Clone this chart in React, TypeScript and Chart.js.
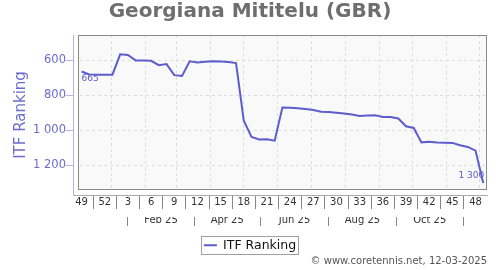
import React, { useEffect, useRef } from "react";
import { Chart, registerables } from "chart.js";

Chart.register(...registerables);
Chart.defaults.font.family = "'DejaVu Sans', sans-serif";

const CHART_TITLE = "Georgiana Mititelu (GBR)";
const SERIES_NAME = "ITF Ranking";
const FOOTER_TEXT = "© www.coretennis.net, 12-03-2025";

// Weekly ranking snapshots (Thursdays)
const rankingDates = [
  "2024-12-05", "2024-12-12", "2024-12-19", "2024-12-26",
  "2025-01-02", "2025-01-09", "2025-01-16", "2025-01-23", "2025-01-30",
  "2025-02-06", "2025-02-13", "2025-02-20", "2025-02-27",
  "2025-03-06", "2025-03-13", "2025-03-20", "2025-03-27",
  "2025-04-03", "2025-04-10", "2025-04-17", "2025-04-24",
  "2025-05-01", "2025-05-08", "2025-05-15", "2025-05-22", "2025-05-29",
  "2025-06-05", "2025-06-12", "2025-06-19", "2025-06-26",
  "2025-07-03", "2025-07-10", "2025-07-17", "2025-07-24", "2025-07-31",
  "2025-08-07", "2025-08-14", "2025-08-21", "2025-08-28",
  "2025-09-04", "2025-09-11", "2025-09-18", "2025-09-25",
  "2025-10-02", "2025-10-09", "2025-10-16", "2025-10-23", "2025-10-30",
  "2025-11-06", "2025-11-13", "2025-11-20", "2025-11-27",
  "2025-12-04",
];

const rankingValues = [
  665, 682, 683, 683,
  683, 567, 571, 602, 602,
  604, 629, 623, 686,
  691, 607, 614, 610,
  607, 608, 611, 617,
  945, 1038, 1053, 1051, 1059,
  870, 872, 874, 879,
  884, 895, 896, 900, 905,
  910, 918, 916, 914,
  924, 924, 933, 977,
  987, 1069, 1065, 1070, 1071,
  1072, 1085, 1095, 1116,
  1300,
];

// Week-number tick labels (every third week)
const weekTickDates = [
  "2024-12-05", "2024-12-26", "2025-01-16", "2025-02-06", "2025-02-27",
  "2025-03-20", "2025-04-10", "2025-05-01", "2025-05-22", "2025-06-12",
  "2025-07-03", "2025-07-24", "2025-08-14", "2025-09-04", "2025-09-25",
  "2025-10-16", "2025-11-06", "2025-11-27",
];
const weekTickLabels = [
  "49", "52", "3", "6", "9", "12", "15", "18", "21",
  "24", "27", "30", "33", "36", "39", "42", "45", "48",
];

// Month labels (second row)
const monthLabelKeys = ["2025-02", "2025-04", "2025-06", "2025-08", "2025-10"];
const monthLabels = ["Feb 25", "Apr 25", "Jun 25", "Aug 25", "Oct 25"];

// Month boundaries for vertical grid lines
const gridMonthKeys = [
  "2025-01", "2025-02", "2025-03", "2025-04", "2025-05", "2025-06",
  "2025-07", "2025-08", "2025-09", "2025-10", "2025-11", "2025-12",
];

const yTickValues = [600, 800, 1000, 1200];

// axis ranges
const X_MIN = -3.76;
const X_MAX = 371.4;
const Y_MIN = 457;
const Y_MAX = 1369;

const ORIGIN = Date.UTC(2024, 11, 1);
const DAY = 86400000;
const dayOf = (s: string) => {
  const [y, m, d] = s.split("-").map(Number);
  return (Date.UTC(y, m - 1, d) - ORIGIN) / DAY;
};
const monthStart = (ym: string) => {
  const [y, m] = ym.split("-").map(Number);
  return (Date.UTC(y, m - 1, 1) - ORIGIN) / DAY;
};
const monthMid = (ym: string) => {
  const [y, m] = ym.split("-").map(Number);
  return ((Date.UTC(y, m - 1, 1) + Date.UTC(y, m, 1)) / 2 - ORIGIN) / DAY;
};
const fmt = (n: number) => String(n).replace(/\B(?=(\d{3})+(?!\d))/g, " ");

const LINE_COLOR = "#5d5dcc";
const AXIS_PURPLE = "#6b6bcc";
const AXIS_PURPLE_LIGHT = "#b3b3e6";
const GRID_COLOR = "#dddddd";

const framePlugin = {
  id: "frame",
  beforeDraw(chart: any) {
    const { ctx, chartArea: a } = chart;
    ctx.save();
    ctx.fillStyle = "#f9f9f9";
    ctx.fillRect(a.left + 5, a.top, a.right - a.left - 5, a.bottom - a.top - 5);
    ctx.restore();
  },
  beforeDatasetsDraw(chart: any) {
    const { ctx, chartArea: a } = chart;
    ctx.save();
    ctx.fillStyle = "#ffffff";
    ctx.fillRect(a.left + 1, a.top, 4, a.bottom - a.top);
    ctx.fillRect(a.left + 1, a.bottom - 5, a.right - a.left, 5);
    ctx.strokeStyle = "#888888";
    ctx.lineWidth = 1;
    ctx.strokeRect(a.left + 5.5, a.top + 0.5, a.right - a.left - 6, a.bottom - a.top - 6);
    ctx.restore();
  },
};

const pointLabelPlugin = {
  id: "pointLabels",
  afterDatasetsDraw(chart: any) {
    const pts = chart.getDatasetMeta(0).data;
    if (!pts.length) return;
    const { ctx } = chart;
    const first = pts[0];
    const last = pts[pts.length - 1];
    ctx.save();
    ctx.font = "9px 'DejaVu Sans', sans-serif";
    ctx.fillStyle = LINE_COLOR;
    ctx.textAlign = "left";
    ctx.textBaseline = "top";
    ctx.fillText(fmt(rankingValues[0]), first.x, first.y + 3);
    ctx.textAlign = "right";
    ctx.textBaseline = "alphabetic";
    ctx.fillText(fmt(rankingValues[rankingValues.length - 1]), last.x + 1, last.y - 4.5);
    ctx.restore();
  },
};

const legendBoxPlugin = {
  id: "legendBox",
  afterDraw(chart: any) {
    const hb = chart.legend && chart.legend.legendHitBoxes && chart.legend.legendHitBoxes[0];
    if (!hb) return;
    const { ctx } = chart;
    ctx.save();
    ctx.strokeStyle = "#a0a0a0";
    ctx.lineWidth = 1;
    ctx.strokeRect(Math.round(hb.left - 3) + 0.5, Math.round(hb.top - 3) + 0.5, Math.round(hb.width + 5), Math.round(hb.height + 5));
    ctx.restore();
  },
};

export default function App() {
  const ref = useRef<HTMLCanvasElement>(null);

  useEffect(() => {
    document.body.style.margin = "0";
    const chart = new Chart(ref.current as HTMLCanvasElement, {
      type: "line",
      data: {
        datasets: [
          {
            label: SERIES_NAME,
            data: rankingDates.map((d, i) => ({ x: dayOf(d), y: rankingValues[i] })),
            borderColor: LINE_COLOR,
            backgroundColor: LINE_COLOR,
            borderWidth: 2,
            pointRadius: 0,
            tension: 0,
            fill: false,
          },
        ],
      },
      options: {
        animation: false,
        responsive: false,
        layout: { padding: { top: 0, left: 13, right: 13, bottom: 2.5 } },
        plugins: {
          title: {
            display: true,
            text: CHART_TITLE,
            color: "#6e6e6e",
            font: { size: 20, weight: "bold" },
            padding: { top: 0, bottom: 11 },
          },
          subtitle: {
            display: true,
            text: FOOTER_TEXT,
            position: "bottom",
            align: "end",
            color: "#555555",
            font: { size: 10 },
            padding: { top: -6.05, bottom: 0 },
          },
          legend: {
            display: true,
            position: "bottom",
            labels: {
              color: "#111111",
              font: { size: 12.5 },
              padding: 14.05,
              usePointStyle: true,
              pointStyle: "line",
              pointStyleWidth: 13,
            },
          },
          tooltip: { enabled: false },
        },
        scales: {
          x: {
            type: "linear",
            position: "bottom",
            weight: 1,
            min: X_MIN,
            max: X_MAX,
            afterBuildTicks: (s: any) => {
              s.ticks = weekTickDates.map((d) => ({ value: dayOf(d) }));
            },
            afterFit: (s: any) => {
              s.height = 22;
            },
            ticks: {
              autoSkip: false,
              maxRotation: 0,
              minRotation: 0,
              padding: -12.2,
              color: "#333333",
              font: { size: 10 },
              callback: (_v: any, i: number) => weekTickLabels[i],
            },
            grid: {
              display: true,
              drawOnChartArea: false,
              drawTicks: true,
              tickLength: 14,
              offset: true,
              tickColor: "#888888",
            },
            border: { display: true, color: "#aaaaaa" },
          },
          xMonth: {
            type: "linear",
            position: "bottom",
            weight: 2,
            min: X_MIN,
            max: X_MAX,
            afterBuildTicks: (s: any) => {
              s.ticks = monthLabelKeys.map((k) => ({ value: monthMid(k) }));
            },
            afterFit: (s: any) => {
              s.height = 8;
            },
            ticks: {
              autoSkip: false,
              maxRotation: 0,
              minRotation: 0,
              padding: -11.2,
              color: "#333333",
              font: { size: 10 },
              callback: (_v: any, i: number) => monthLabels[i],
            },
            grid: {
              display: true,
              drawOnChartArea: false,
              drawTicks: true,
              tickLength: 9,
              offset: true,
              tickColor: "#888888",
            },
            border: { display: false },
          },
          xGrid: {
            type: "linear",
            position: "top",
            weight: 0,
            min: X_MIN,
            max: X_MAX,
            afterBuildTicks: (s: any) => {
              s.ticks = gridMonthKeys.map((k) => ({ value: monthStart(k) }));
            },
            afterFit: (s: any) => {
              s.height = 0;
            },
            ticks: { display: false },
            grid: { display: true, color: GRID_COLOR, drawTicks: false },
            border: { display: false, dash: [3, 3] },
          },
          y: {
            type: "linear",
            position: "left",
            reverse: true,
            min: Y_MIN,
            max: Y_MAX,
            afterBuildTicks: (s: any) => {
              s.ticks = yTickValues.map((v) => ({ value: v }));
            },
            afterFit: (s: any) => {
              s.width = 60;
            },
            ticks: {
              padding: 0,
              color: AXIS_PURPLE,
              font: { size: 11.5 },
              callback: (v: any) => fmt(Number(v)),
            },
            grid: {
              color: GRID_COLOR,
              tickColor: AXIS_PURPLE_LIGHT,
              tickLength: 7,
            },
            border: { display: true, color: AXIS_PURPLE_LIGHT, dash: [3, 3] },
            title: {
              display: true,
              text: SERIES_NAME,
              color: AXIS_PURPLE,
              font: { size: 15 },
              padding: { top: -1.2, bottom: 0 },
            },
          },
        },
      },
      plugins: [framePlugin, pointLabelPlugin, legendBoxPlugin],
    } as any);
    return () => chart.destroy();
  }, []);

  return (
    <div style={{ width: 500, height: 270 }}>
      <canvas ref={ref} width={500} height={270} style={{ display: "block" }} />
    </div>
  );
}
